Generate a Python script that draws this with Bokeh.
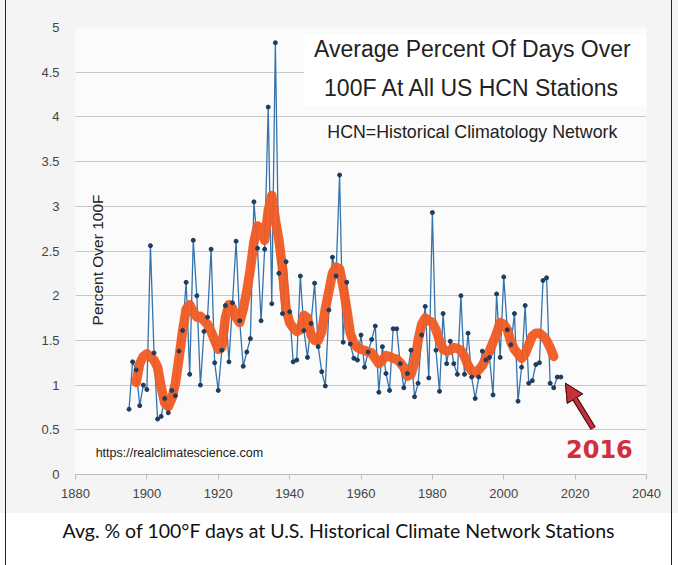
import math
from bokeh.plotting import figure
from bokeh.models import (FixedTicker, CustomJSTickFormatter, Label, Arrow,
                          NormalHead, ColumnDataSource, Title)
from bokeh.embed import file_html
from bokeh.resources import INLINE

# ---- data -------------------------------------------------------------
years = list(range(1895, 2017))
pct_over_100f = [
    0.73, 1.26, 1.17, 0.77, 1.00, 0.95, 2.56, 1.36, 0.62, 0.65,   # 1895-1904
    0.85, 0.69, 0.94, 0.88, 1.38, 1.61, 2.15, 1.12, 2.62, 2.00,   # 1905-1914
    1.00, 1.60, 1.76, 2.52, 1.25, 0.94, 1.39, 1.89, 1.26, 1.92,   # 1915-1924
    2.61, 1.72, 1.21, 1.37, 1.52, 3.05, 2.53, 1.72, 2.52, 4.11,   # 1925-1934
    1.91, 4.83, 2.25, 1.80, 2.38, 1.82, 1.26, 1.28, 2.22, 1.61,   # 1935-1944
    1.31, 1.69, 2.14, 1.43, 1.15, 0.99, 1.84, 2.43, 2.22, 3.35,   # 1945-1954
    1.48, 2.15, 1.46, 1.30, 1.28, 1.56, 1.20, 1.37, 1.51, 1.66,   # 1955-1964
    0.92, 1.43, 1.13, 0.94, 1.63, 1.63, 1.24, 0.97, 1.13, 1.39,   # 1965-1974
    0.87, 1.02, 1.56, 1.88, 1.08, 2.93, 1.39, 0.93, 1.80, 1.24,   # 1975-1984
    1.49, 1.24, 1.12, 2.00, 1.12, 1.58, 1.09, 0.85, 1.09, 1.38,   # 1985-1994
    1.28, 1.31, 0.89, 2.02, 1.31, 2.21, 1.62, 1.45, 1.80, 0.82,   # 1995-2004
    1.20, 1.89, 1.02, 1.05, 1.23, 1.25, 2.17, 2.20, 1.02, 0.97,   # 2005-2014
    1.09, 1.09,                                                   # 2015-2016
]

smooth_years = list(range(1897, 2015))
smooth_pct = [
    1.03, 1.24, 1.32, 1.35, 1.32, 1.28, 1.20, 0.98,               # 1897-1904
    0.80, 0.76, 0.85, 1.02, 1.30, 1.60, 1.85, 1.90, 1.82, 1.76,   # 1905-1914
    1.77, 1.72, 1.68, 1.60, 1.50, 1.40, 1.42, 1.75, 1.90, 1.86,   # 1915-1924
    1.76, 1.70, 1.85, 2.05, 2.30, 2.60, 2.78, 2.75, 2.62, 2.95,   # 1925-1934
    3.12, 2.85, 2.62, 2.30, 1.85, 1.70, 1.64, 1.60, 1.62, 1.78,   # 1935-1944
    1.75, 1.56, 1.50, 1.50, 1.60, 1.85, 2.05, 2.25, 2.32, 2.30,   # 1945-1954
    2.10, 1.85, 1.58, 1.47, 1.42, 1.40, 1.39, 1.37, 1.36, 1.30,   # 1955-1964
    1.24, 1.28, 1.33, 1.32, 1.30, 1.29, 1.25, 1.20, 1.10, 1.12,   # 1965-1974
    1.25, 1.50, 1.68, 1.75, 1.72, 1.70, 1.62, 1.50, 1.40, 1.38,   # 1975-1984
    1.39, 1.42, 1.41, 1.39, 1.32, 1.22, 1.16, 1.14, 1.17, 1.22,   # 1985-1994
    1.30, 1.38, 1.48, 1.58, 1.70, 1.68, 1.62, 1.48, 1.40, 1.35,   # 1995-2004
    1.30, 1.35, 1.45, 1.55, 1.58, 1.58, 1.55, 1.50, 1.42, 1.32,   # 2005-2014
]

x_ticks = [1880, 1900, 1920, 1940, 1960, 1980, 2000, 2020, 2040]
y_ticks = [0, 0.5, 1, 1.5, 2, 2.5, 3, 3.5, 4, 4.5, 5]

title_lines = ["Average Percent Of Days Over", "100F At All US HCN Stations"]
subtitle = "HCN=Historical Climatology Network"
y_label = "Percent Over 100F"
source_note = "https://realclimatescience.com"
caption = "Avg. % of 100\u00b0F days at U.S. Historical Climate Network Stations"
highlight = "2016"

# ---- figure -----------------------------------------------------------
p = figure(width=678, height=565, x_range=(1880, 2040), y_range=(0, 5),
           output_backend="svg", toolbar_location=None, title=None,
           min_border_left=75, min_border_right=32,
           min_border_top=27, min_border_bottom=91)
p.border_fill_alpha = 0.0
p.background_fill_color = "#fbfbfb"
p.outline_line_color = None
p.styles = {
    "background-image": (
        "linear-gradient(to right, transparent 5px, #222 5px, #222 6px, "
        "transparent 6px, transparent 671px, #222 671px, #222 672px, "
        "transparent 672px), "
        "linear-gradient(to bottom, #f4f4f4 0px, #f4f4f4 513px, "
        "#ffffff 513px, #ffffff 565px)"
    )
}

# axes
p.xaxis.ticker = FixedTicker(ticks=x_ticks)
p.yaxis.ticker = FixedTicker(ticks=y_ticks)
p.yaxis.formatter = CustomJSTickFormatter(code="return String(tick);")
for ax in (p.xaxis[0], p.yaxis[0]):
    ax.major_label_text_font = "Liberation Sans"
    ax.major_label_text_font_size = "13px"
    ax.major_label_text_color = "#444444"
    ax.minor_tick_line_color = None
p.xaxis.axis_line_color = "#bbbbbb"
p.xaxis.major_tick_line_color = "#bbbbbb"
p.xaxis.major_tick_out = 5
p.xaxis.major_tick_in = 0
p.xaxis.major_label_standoff = 9
p.yaxis.axis_line_color = None
p.yaxis.major_tick_line_color = None
p.yaxis.major_label_standoff = 10

p.xgrid.grid_line_color = None
p.ygrid.grid_line_color = "#c8c8c8"
p.ygrid.grid_line_width = 1

# caption below the chart
p.add_layout(Title(text=caption, align="left", offset=-13, standoff=36,
                   vertical_align="top",
                   text_font="Lato", text_font_size="19.5px",
                   text_font_style="normal", text_color="#111111"), "below")

# white box behind title
p.quad(left=[1944], right=[2040], bottom=[4.12], top=[4.93],
       fill_color="white", line_color=None)

src = ColumnDataSource(dict(year=years, pct=pct_over_100f))
ssrc = ColumnDataSource(dict(year=smooth_years, pct=smooth_pct))

p.line("year", "pct", source=src, line_color="#3473ab", line_width=1.3)
p.line("year", "pct", source=ssrc, line_color="#f15a22", line_width=9.5,
       line_join="round", line_cap="round", line_alpha=0.95)
p.scatter("year", "pct", source=src, size=4, marker="circle",
          fill_color="#1f3c5e", line_color="#1f3c5e")

# texts
tfont = "Liberation Sans"
p.add_layout(Label(x=1991.2, y=4.765, text=title_lines[0], text_align="center",
                   text_baseline="middle", text_font=tfont,
                   text_font_size="23px", text_color="#222222"))
p.add_layout(Label(x=1991.2, y=4.318, text=title_lines[1], text_align="center",
                   text_baseline="middle", text_font=tfont,
                   text_font_size="23px", text_color="#222222"))
p.add_layout(Label(x=1991.2, y=3.826, text=subtitle, text_align="center",
                   text_baseline="middle", text_font=tfont,
                   text_font_size="17.8px", text_color="#222222"))
p.add_layout(Label(x=1886.3, y=2.40, text=y_label, angle=math.pi / 2,
                   text_align="center", text_baseline="middle",
                   text_font=tfont, text_font_size="15.5px",
                   text_color="#222222"))
p.add_layout(Label(x=1909.1, y=0.246, text=source_note, text_align="center",
                   text_baseline="middle", text_font=tfont,
                   text_font_size="12.5px", text_color="#222222"))
p.add_layout(Label(x=2026.8, y=0.29, text=highlight, text_align="center",
                   text_baseline="middle", text_font="DejaVu Sans",
                   text_font_style="bold", text_font_size="24px",
                   text_color="#d0303c"))

# arrow pointing at 2016
p.add_layout(Arrow(end=NormalHead(size=18, fill_color="#c62f3b",
                                  line_color="#4a1010", line_width=1),
                   x_start=2025.1, y_start=0.515, x_end=2017.3, y_end=1.02,
                   line_color="#4a1010", line_width=6))
p.add_layout(Arrow(end=NormalHead(size=18, fill_color="#c62f3b",
                                  line_color="#4a1010", line_width=1),
                   x_start=2025.1, y_start=0.515, x_end=2017.3, y_end=1.02,
                   line_color="#c62f3b", line_width=3.5))

open("out.html", "w").write(file_html(p, INLINE))
